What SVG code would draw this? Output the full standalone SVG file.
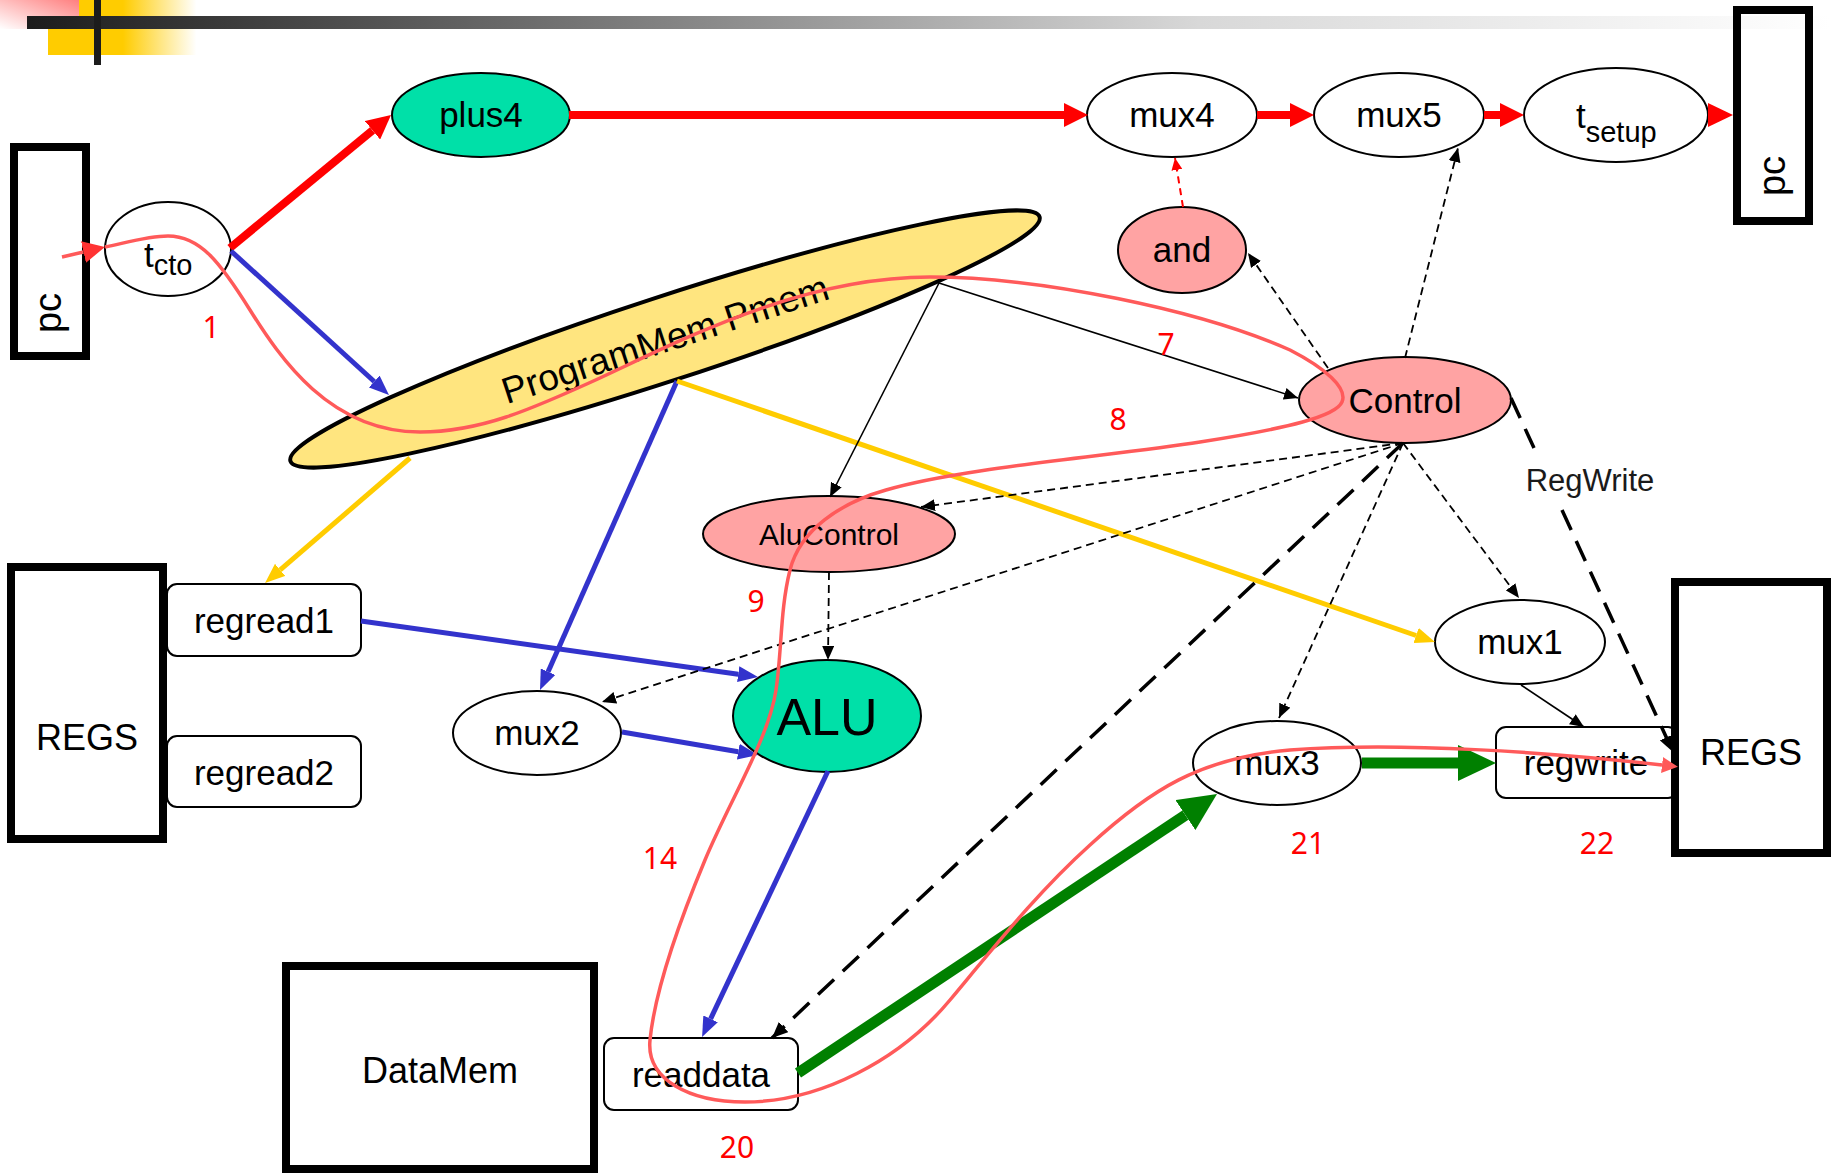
<svg xmlns="http://www.w3.org/2000/svg" width="1837" height="1174" viewBox="0 0 1837 1174">
<style>
.lbl{font-family:"Liberation Sans",Arial,sans-serif;font-size:35px;text-anchor:middle;fill:#000}
.num{font-family:"Noto Sans","DejaVu Sans",sans-serif;font-size:30px;text-anchor:middle;fill:#ff0000}
.node{stroke:#000;stroke-width:2}
.ell{fill:#fff}
.teal{fill:#00e0a8}
.pink{fill:#ffa3a3}
.box{fill:none;stroke:#000;stroke-width:8}
.rr{fill:#fff;stroke:#000;stroke-width:2}
.red{stroke:#ff0000;stroke-width:8;fill:none}
.blue{stroke:#3333cc;stroke-width:5;fill:none}
.yel{stroke:#ffcc00;stroke-width:5;fill:none}
.grn{stroke:#008000;stroke-width:11;fill:none}
.thin{stroke:#000;stroke-width:1.6;fill:none}
.dash{stroke:#000;stroke-width:1.8;fill:none;stroke-dasharray:8 5}
.ldash{stroke:#000;stroke-width:3.5;fill:none;stroke-dasharray:22 12}
.path{stroke:#ff5a5a;stroke-width:3.5;fill:none}
</style>
<defs>
<linearGradient id="barG" gradientUnits="userSpaceOnUse" x1="27" y1="0" x2="1830" y2="0">
<stop offset="0" stop-color="#1c1c1c"/><stop offset="0.107" stop-color="#3a3a3a"/><stop offset="0.318" stop-color="#787878"/><stop offset="0.65" stop-color="#d8d8d8"/><stop offset="1" stop-color="#ffffff"/>
</linearGradient>
<linearGradient id="pinkG" x1="0" y1="1" x2="1" y2="0">
<stop offset="0" stop-color="#ffffff"/><stop offset="1" stop-color="#ff7f7f"/>
</linearGradient>
<linearGradient id="yelG" x1="0" y1="0" x2="1" y2="0">
<stop offset="0.49" stop-color="#ffcc00"/><stop offset="0.97" stop-color="#ffffff"/>
</linearGradient>
<marker id="mRed" markerUnits="userSpaceOnUse" markerWidth="24" markerHeight="24" refX="0" refY="12" orient="auto"><path d="M0,0 L24,12 L0,24 z" fill="#ff0000"/></marker>
<marker id="mBlue" markerUnits="userSpaceOnUse" markerWidth="20" markerHeight="16" refX="0" refY="8" orient="auto"><path d="M0,0 L20,8 L0,16 z" fill="#3333cc"/></marker>
<marker id="mYel" markerUnits="userSpaceOnUse" markerWidth="20" markerHeight="16" refX="0" refY="8" orient="auto"><path d="M0,0 L20,8 L0,16 z" fill="#ffcc00"/></marker>
<marker id="mGrn" markerUnits="userSpaceOnUse" markerWidth="38" markerHeight="36" refX="0" refY="18" orient="auto"><path d="M0,0 L38,18 L0,36 z" fill="#008000"/></marker>
<marker id="mBlk" markerUnits="userSpaceOnUse" markerWidth="14" markerHeight="12" refX="14" refY="6" orient="auto"><path d="M0,0 L14,6 L0,12 z" fill="#000"/></marker>
<marker id="mBlkL" markerUnits="userSpaceOnUse" markerWidth="16" markerHeight="14" refX="16" refY="7" orient="auto"><path d="M0,0 L16,7 L0,14 z" fill="#000"/></marker>
<marker id="mRedS" markerUnits="userSpaceOnUse" markerWidth="12" markerHeight="11" refX="12" refY="5.5" orient="auto"><path d="M0,0 L12,5.5 L0,11 z" fill="#ff0000"/></marker>
<marker id="mPath1" markerUnits="userSpaceOnUse" markerWidth="22" markerHeight="22" refX="0" refY="11" orient="auto"><path d="M0,0 L22,11 L0,22 z" fill="#ff3333"/></marker>
<marker id="mPath2" markerUnits="userSpaceOnUse" markerWidth="16" markerHeight="16" refX="0" refY="8" orient="auto"><path d="M0,0 L16,8 L0,16 z" fill="#ff5a5a"/></marker>
</defs>

<g id="decoration">
<rect x="48" y="0" width="153" height="55" fill="url(#yelG)"/>
<rect x="0" y="0" width="79" height="29" fill="url(#pinkG)"/>
<rect x="27" y="16" width="1803" height="13" fill="url(#barG)"/>
<rect x="94" y="0" width="7" height="65" fill="#1c1c1c"/>
</g>

<g id="pc_left"><rect class="box" x="14" y="147" width="72" height="209"/><text class="lbl" font-size="38" style="font-size:38px" transform="translate(61,313) rotate(-90)">pc</text></g>
<g id="pc_right"><rect class="box" x="1737" y="10" width="72" height="211"/><text class="lbl" style="font-size:38px" transform="translate(1785,176) rotate(-90)">pc</text></g>
<g id="tcto"><ellipse class="node ell" cx="168" cy="249" rx="63" ry="47"/><text class="lbl" style="text-anchor:start" x="144" y="267">t<tspan style="font-size:29px" dy="8">cto</tspan></text></g>
<g id="plus4"><ellipse class="node teal" cx="481" cy="115" rx="89" ry="42"/><text class="lbl" x="481" y="127">plus4</text></g>
<g id="mux4"><ellipse class="node ell" cx="1172" cy="115" rx="85" ry="42"/><text class="lbl" x="1172" y="127">mux4</text></g>
<g id="mux5"><ellipse class="node ell" cx="1399" cy="115" rx="85" ry="42"/><text class="lbl" x="1399" y="127">mux5</text></g>
<g id="tsetup"><ellipse class="node ell" cx="1616" cy="115" rx="92" ry="47"/><text class="lbl" style="text-anchor:start" x="1576" y="128">t<tspan style="font-size:29px" dy="14">setup</tspan></text></g>
<g id="and"><ellipse class="node pink" cx="1182" cy="250" rx="64" ry="43"/><text class="lbl" x="1182" y="262">and</text></g>
<g id="ProgramMem"><g transform="translate(665,339) rotate(-18.07)"><ellipse cx="0" cy="0" rx="394" ry="42" fill="#ffe57f" stroke="#000" stroke-width="4"/><text class="lbl" style="font-size:37px" x="0" y="13">ProgramMem Pmem</text></g></g>
<g id="Control"><ellipse class="node pink" cx="1405" cy="400" rx="106" ry="43"/><text class="lbl" x="1405" y="413">Control</text></g>
<g id="AluControl"><ellipse class="node pink" cx="829" cy="534" rx="126" ry="38"/><text class="lbl" style="font-size:30px" x="829" y="545">AluControl</text></g>
<g id="ALU"><ellipse class="node teal" cx="827" cy="716" rx="94" ry="56"/><text class="lbl" style="font-size:52px" x="827" y="735">ALU</text></g>
<g id="mux2"><ellipse class="node ell" cx="537" cy="733" rx="84" ry="42"/><text class="lbl" x="537" y="745">mux2</text></g>
<g id="mux3"><ellipse class="node ell" cx="1277" cy="763" rx="84" ry="42"/><text class="lbl" x="1277" y="775">mux3</text></g>
<g id="mux1"><ellipse class="node ell" cx="1520" cy="642" rx="85" ry="42"/><text class="lbl" x="1520" y="654">mux1</text></g>
<g id="REGS_left"><rect class="box" x="11" y="567" width="152" height="272"/><text class="lbl" style="font-size:36px" x="87" y="750">REGS</text></g>
<g id="regread1"><rect class="rr" x="167" y="584" width="194" height="72" rx="10"/><text class="lbl" x="264" y="633">regread1</text></g>
<g id="regread2"><rect class="rr" x="167" y="736" width="194" height="71" rx="10"/><text class="lbl" x="264" y="785">regread2</text></g>
<g id="DataMem"><rect class="box" x="286" y="966" width="308" height="203"/><text class="lbl" style="font-size:36px" x="440" y="1083">DataMem</text></g>
<g id="readdata"><rect class="rr" x="604" y="1038" width="194" height="72" rx="10"/><text class="lbl" x="701" y="1087">readdata</text></g>
<g id="regwrite"><rect class="rr" x="1496" y="727" width="182" height="71" rx="10"/><text class="lbl" x="1586" y="775">regwrite</text></g>
<g id="REGS_right"><rect class="box" x="1675" y="582" width="152" height="271" fill="#fff" style="fill:#fff"/><text class="lbl" style="font-size:36px" x="1751" y="765">REGS</text></g>

<g id="connectors">
<path class="red" d="M230,248 L372.5,130.3" marker-end="url(#mRed)"/>
<path class="red" d="M569,115 L1064,115" marker-end="url(#mRed)"/>
<path class="red" d="M1257,115 L1290,115" marker-end="url(#mRed)"/>
<path class="red" d="M1484,115 L1500,115" marker-end="url(#mRed)"/>
<polygon points="1708,103 1733,115 1708,127" fill="#ff0000"/>
<path class="blue" d="M231,251 L374.2,381.5" marker-end="url(#mBlue)"/>
<path class="blue" d="M677,381 L548.1,671.7" marker-end="url(#mBlue)"/>
<path class="blue" d="M361,621 L738.2,674.2" marker-end="url(#mBlue)"/>
<path class="blue" d="M622,732 L738.3,751.7" marker-end="url(#mBlue)"/>
<path class="blue" d="M828,771 L710.6,1018.9" marker-end="url(#mBlue)"/>
<path class="yel" d="M410,458 L280.2,569.9" marker-end="url(#mYel)"/>
<path class="yel" d="M677,381 L1416.1,635.5" marker-end="url(#mYel)"/>
<path class="thin" d="M939,283 L1298,398" marker-end="url(#mBlk)"/>
<path class="thin" d="M939,283 L830,497" marker-end="url(#mBlk)"/>
<path class="thin" d="M1521,685 L1584,727" marker-end="url(#mBlk)"/>
<path class="dash" d="M1328,368 L1248,253" marker-end="url(#mBlk)"/>
<path class="dash" d="M1405,358 L1458,148" marker-end="url(#mBlk)"/>
<path class="dash" d="M1403,443 L921,507" marker-end="url(#mBlk)"/>
<path class="dash" d="M1403,443 L602,702" marker-end="url(#mBlk)"/>
<path class="dash" d="M1403,443 L1279,718" marker-end="url(#mBlk)"/>
<path class="dash" d="M1403,443 L1519,598" marker-end="url(#mBlk)"/>
<path class="dash" d="M829,572 L828,660" marker-end="url(#mBlk)"/>
<path class="ldash" d="M1403,443 L772,1038" marker-end="url(#mBlkL)"/>
<path class="ldash" d="M1511,398 L1534,448 M1562,510 L1673,752" marker-end="url(#mBlkL)"/>
<text x="1590" y="491" style="font-family:'Liberation Sans',Arial,sans-serif;font-size:31px;fill:#1a1a1a;text-anchor:middle">RegWrite</text>
<path d="M1183,207 L1175,158" stroke="#ff0000" stroke-width="2" stroke-dasharray="7 5" fill="none" marker-end="url(#mRedS)"/>
<path class="grn" d="M798,1073 L1185.4,815.1" marker-end="url(#mGrn)"/>
<path class="grn" d="M1362,763 L1458,763" marker-end="url(#mGrn)"/>
</g>

<g id="critical_path">
<path class="path" d="M62,257 L83.5,252" marker-end="url(#mPath1)"/>
<path class="path" d="M105,247 C125,243 148,236 168,236 C200,236 220,262 250,310 C280,358 330,432 420,432 C480,432 530,410 600,378 C680,341 800,277 930,277 C1040,277 1200,310 1290,350 C1325,368 1348,388 1342,402 C1336,416 1290,428 1200,442 C1110,456 960,468 886,490 C840,503 800,530 790,570 C780,610 782,650 776,690 C769,738 730,800 705,860 C680,920 655,990 650,1040 C646,1080 690,1102 745,1102 C820,1102 900,1060 950,1000 C1000,940 1040,890 1090,845 C1150,790 1200,758 1290,750 C1400,742 1550,752 1662,765" marker-end="url(#mPath2)"/>
</g>

<g id="step_labels">
<text class="num" x="211" y="338">1</text>
<text class="num" x="1166" y="355">7</text>
<text class="num" x="1118" y="430">8</text>
<text class="num" x="756" y="612">9</text>
<text class="num" x="660" y="869">14</text>
<text class="num" x="737" y="1158">20</text>
<text class="num" x="1308" y="854">21</text>
<text class="num" x="1597" y="854">22</text>
</g>
</svg>
